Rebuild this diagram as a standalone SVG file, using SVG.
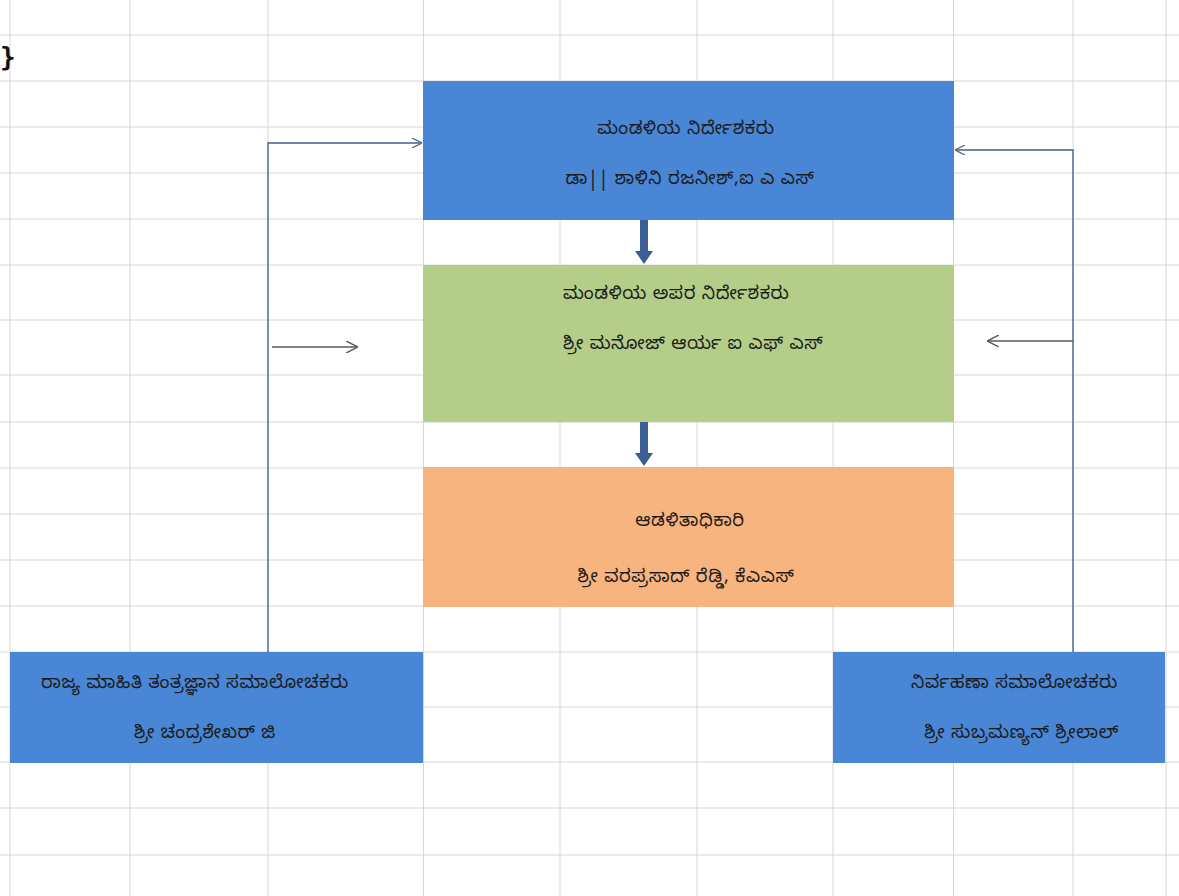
<svg xmlns="http://www.w3.org/2000/svg" width="1179" height="896" viewBox="0 0 1179 896">
<defs>
<style>
.grid line{stroke:#d6d6d6;stroke-width:1}
.t{font-family:"Noto Sans Kannada","Lohit Kannada","Noto Sans","DejaVu Sans",sans-serif;font-size:18px;letter-spacing:0.6px;fill:#1c1c1c}
.c{text-anchor:middle}
.blue{fill:#4a86d6}
.green{fill:#b4ce8a}
.orange{fill:#f8b47e}
.link{fill:none;stroke:#3e5f8f;stroke-width:1.3}
.gray{fill:none;stroke:#5a5a5a;stroke-width:1.3}
.down{fill:#3b5f95}
</style>
<marker id="chev" viewBox="0 0 10 10" refX="10" refY="5" markerWidth="10" markerHeight="10" markerUnits="userSpaceOnUse" orient="auto">
<path d="M0,0 L10,5 L0,10" fill="none" stroke="#5a6a80" stroke-width="1.3"/>
</marker>
<marker id="chev2" viewBox="0 0 10 10" refX="10" refY="5" markerWidth="12" markerHeight="12" markerUnits="userSpaceOnUse" orient="auto">
<path d="M0,0 L10,5 L0,10" fill="none" stroke="#5a5a5a" stroke-width="1.2"/>
</marker>
</defs>
<rect x="0" y="0" width="1179" height="896" fill="#ffffff"/>
<g class="grid">
<line x1="10" y1="0" x2="10" y2="896"/>
<line x1="130" y1="0" x2="130" y2="896"/>
<line x1="268" y1="0" x2="268" y2="896"/>
<line x1="423.5" y1="0" x2="423.5" y2="896"/>
<line x1="560" y1="0" x2="560" y2="896"/>
<line x1="697" y1="0" x2="697" y2="896"/>
<line x1="833" y1="0" x2="833" y2="896"/>
<line x1="953.5" y1="0" x2="953.5" y2="896"/>
<line x1="1073" y1="0" x2="1073" y2="896"/>
<line x1="1166" y1="0" x2="1166" y2="896"/>
<line x1="0" y1="35" x2="1179" y2="35"/>
<line x1="0" y1="81" x2="1179" y2="81"/>
<line x1="0" y1="127" x2="1179" y2="127"/>
<line x1="0" y1="173" x2="1179" y2="173"/>
<line x1="0" y1="219" x2="1179" y2="219"/>
<line x1="0" y1="265" x2="1179" y2="265"/>
<line x1="0" y1="320" x2="1179" y2="320"/>
<line x1="0" y1="375" x2="1179" y2="375"/>
<line x1="0" y1="422" x2="1179" y2="422"/>
<line x1="0" y1="468" x2="1179" y2="468"/>
<line x1="0" y1="514" x2="1179" y2="514"/>
<line x1="0" y1="560" x2="1179" y2="560"/>
<line x1="0" y1="606" x2="1179" y2="606"/>
<line x1="0" y1="652" x2="1179" y2="652"/>
<line x1="0" y1="707" x2="1179" y2="707"/>
<line x1="0" y1="762" x2="1179" y2="762"/>
<line x1="0" y1="808" x2="1179" y2="808"/>
<line x1="0" y1="855" x2="1179" y2="855"/>
</g>
<text x="0" y="66" style="font-family:'DejaVu Sans Mono',monospace;font-size:26px;font-weight:bold;fill:#111">}</text>
<g id="director">
<rect class="blue" x="423" y="81" width="531" height="139"/>
<text class="t c" x="686" y="134">ಮಂಡಳಿಯ ನಿರ್ದೇಶಕರು</text>
<text class="t c" x="690" y="184">ಡಾ|| ಶಾಳಿನಿ ರಜನೀಶ್,ಐ ಎ ಎಸ್</text>
</g>
<g id="addl-director">
<rect class="green" x="423" y="265" width="531" height="157"/>
<text class="t" x="563" y="299">ಮಂಡಳಿಯ ಅಪರ ನಿರ್ದೇಶಕರು</text>
<text class="t" x="563" y="349">ಶ್ರೀ ಮನೋಜ್ ಆರ್ಯ ಐ ಎಫ್ ಎಸ್</text>
</g>
<g id="administrator">
<rect class="orange" x="423" y="467" width="531" height="140"/>
<text class="t c" x="690" y="526">ಆಡಳಿತಾಧಿಕಾರಿ</text>
<text class="t c" x="686" y="582">ಶ್ರೀ ವರಪ್ರಸಾದ್ ರೆಡ್ಡಿ, ಕೆಎಎಸ್</text>
</g>
<g id="it-consultant">
<rect class="blue" x="10" y="652" width="413" height="111"/>
<text class="t c" x="195" y="688">ರಾಜ್ಯ ಮಾಹಿತಿ ತಂತ್ರಜ್ಞಾನ ಸಮಾಲೋಚಕರು</text>
<text class="t c" x="205" y="738">ಶ್ರೀ ಚಂದ್ರಶೇಖರ್ ಜಿ</text>
</g>
<g id="mgmt-consultant">
<rect class="blue" x="833" y="652" width="332" height="111"/>
<text class="t" x="1118" y="688" text-anchor="end">ನಿರ್ವಹಣಾ ಸಮಾಲೋಚಕರು</text>
<text class="t" x="1119" y="738" text-anchor="end">ಶ್ರೀ ಸುಬ್ರಮಣ್ಯನ್ ಶ್ರೀಲಾಲ್</text>
</g>
<g id="connectors">
<polyline class="link" points="268,652 268,143 422,143" marker-end="url(#chev)"/>
<line class="gray" x1="272" y1="347" x2="358" y2="347" marker-end="url(#chev2)"/>
<polyline class="link" points="1073,652 1073,150 955,150" marker-end="url(#chev)"/>
<line class="gray" x1="1073" y1="341" x2="987" y2="341" marker-end="url(#chev2)"/>
<path class="down" d="M640,220 L648,220 L648,251 L653,251 L644,264 L635,251 L640,251 Z"/>
<path class="down" d="M640,422 L648,422 L648,453 L653,453 L644,466 L635,453 L640,453 Z"/>
</g>
</svg>
